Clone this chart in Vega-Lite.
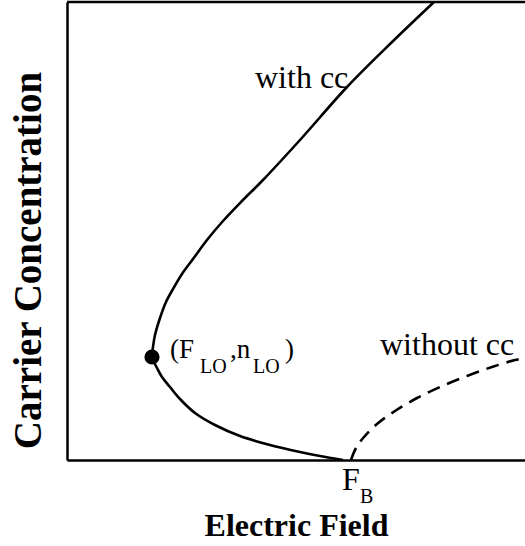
{
  "$schema": "https://vega.github.io/schema/vega-lite/v6.json",
  "autosize": "none",
  "padding": {"left": 67, "top": 2, "right": 0, "bottom": 86},
  "width": 458,
  "height": 458,
  "config": {"view": {"stroke": null}, "font": "Liberation Serif"},
  "datasets": {
    "curves": [
      {"series": "with cc", "order": 1, "E": 276, "n": 0},
      {"series": "with cc", "order": 2, "E": 253, "n": 4},
      {"series": "with cc", "order": 3, "E": 233, "n": 8},
      {"series": "with cc", "order": 4, "E": 203, "n": 15},
      {"series": "with cc", "order": 5, "E": 173, "n": 24},
      {"series": "with cc", "order": 6, "E": 148, "n": 35},
      {"series": "with cc", "order": 7, "E": 128, "n": 47},
      {"series": "with cc", "order": 8, "E": 113, "n": 61},
      {"series": "with cc", "order": 9, "E": 103, "n": 73},
      {"series": "with cc", "order": 10, "E": 95, "n": 83},
      {"series": "with cc", "order": 11, "E": 90, "n": 92},
      {"series": "with cc", "order": 12, "E": 87, "n": 98},
      {"series": "with cc", "order": 13, "E": 85, "n": 103},
      {"series": "with cc", "order": 14, "E": 86, "n": 113},
      {"series": "with cc", "order": 15, "E": 88, "n": 125},
      {"series": "with cc", "order": 16, "E": 93, "n": 142},
      {"series": "with cc", "order": 17, "E": 99, "n": 158},
      {"series": "with cc", "order": 18, "E": 106, "n": 171},
      {"series": "with cc", "order": 19, "E": 115, "n": 186},
      {"series": "with cc", "order": 20, "E": 126, "n": 201},
      {"series": "with cc", "order": 21, "E": 140, "n": 220},
      {"series": "with cc", "order": 22, "E": 156, "n": 239},
      {"series": "with cc", "order": 23, "E": 175, "n": 259},
      {"series": "with cc", "order": 24, "E": 196, "n": 280},
      {"series": "with cc", "order": 25, "E": 233, "n": 320},
      {"series": "with cc", "order": 26, "E": 280, "n": 373},
      {"series": "with cc", "order": 27, "E": 323, "n": 416},
      {"series": "with cc", "order": 28, "E": 367, "n": 458},
      {"series": "without cc", "order": 1, "E": 284, "n": 0},
      {"series": "without cc", "order": 2, "E": 289, "n": 12},
      {"series": "without cc", "order": 3, "E": 297, "n": 23},
      {"series": "without cc", "order": 4, "E": 310, "n": 36},
      {"series": "without cc", "order": 5, "E": 328, "n": 49},
      {"series": "without cc", "order": 6, "E": 350, "n": 62},
      {"series": "without cc", "order": 7, "E": 373, "n": 73},
      {"series": "without cc", "order": 8, "E": 400, "n": 84},
      {"series": "without cc", "order": 9, "E": 425, "n": 93},
      {"series": "without cc", "order": 10, "E": 448, "n": 100},
      {"series": "without cc", "order": 11, "E": 463, "n": 103}
    ],
    "point": [{"E": 85, "n": 103}],
    "mainText": [
      {"label": "with cc", "E": 188, "n": 372},
      {"label": "without cc", "E": 313, "n": 105},
      {"label": "F", "E": 275, "n": -30}
    ],
    "pointText": [
      {"label": "(F", "E": 103, "n": 102},
      {"label": ",n", "E": 163, "n": 102},
      {"label": ")", "E": 218, "n": 102}
    ],
    "subText": [
      {"label": "LO", "E": 133, "n": 87},
      {"label": "LO", "E": 186, "n": 87},
      {"label": "B", "E": 293, "n": -43}
    ]
  },
  "layer": [
    {
      "data": {"name": "curves"},
      "transform": [{"filter": "datum.series === 'with cc'"}],
      "mark": {"type": "line", "color": "black", "strokeWidth": 2.6, "interpolate": "catmull-rom"},
      "encoding": {
        "x": {
          "field": "E", "type": "quantitative",
          "scale": {"domain": [0, 458], "nice": false, "zero": false},
          "axis": {
            "title": "Electric Field", "domain": true, "domainColor": "black", "domainWidth": 2.5,
            "ticks": false, "labels": false, "grid": false,
            "titleFont": "Liberation Serif", "titleFontWeight": "bold", "titleFontSize": 32, "titleColor": "black",
            "titleX": 229, "titleY": 75, "titleBaseline": "alphabetic", "titleAlign": "center"
          }
        },
        "y": {
          "field": "n", "type": "quantitative",
          "scale": {"domain": [0, 458], "nice": false, "zero": false},
          "axis": {
            "title": "Carrier Concentration", "domain": true, "domainColor": "black", "domainWidth": 2.5,
            "ticks": false, "labels": false, "grid": false,
            "titleFont": "Liberation Serif", "titleFontWeight": "bold", "titleFontSize": 39, "titleColor": "black",
            "titleX": -39, "titleY": 258, "titleAngle": -90, "titleBaseline": "middle", "titleAlign": "center"
          }
        },
        "order": {"field": "order", "type": "quantitative"}
      }
    },
    {
      "data": {"name": "curves"},
      "transform": [{"filter": "datum.series === 'without cc'"}],
      "mark": {"type": "line", "color": "black", "strokeWidth": 2.6, "strokeDash": [13, 8], "interpolate": "catmull-rom"},
      "encoding": {
        "x": {"field": "E", "type": "quantitative"},
        "y": {"field": "n", "type": "quantitative"},
        "order": {"field": "order", "type": "quantitative"}
      }
    },
    {
      "data": {"values": [{"top": 458}]},
      "mark": {"type": "rule", "color": "black", "strokeWidth": 2.5},
      "encoding": {"y": {"field": "top", "type": "quantitative"}}
    },
    {
      "data": {"name": "point"},
      "mark": {"type": "point", "filled": true, "color": "black", "size": 230, "opacity": 1},
      "encoding": {
        "x": {"field": "E", "type": "quantitative"},
        "y": {"field": "n", "type": "quantitative"}
      }
    },
    {
      "data": {"name": "mainText"},
      "mark": {"type": "text", "align": "left", "baseline": "alphabetic", "font": "Liberation Serif", "fontSize": 32, "color": "black"},
      "encoding": {
        "x": {"field": "E", "type": "quantitative"},
        "y": {"field": "n", "type": "quantitative"},
        "text": {"field": "label"}
      }
    },
    {
      "data": {"name": "pointText"},
      "mark": {"type": "text", "align": "left", "baseline": "alphabetic", "font": "Liberation Serif", "fontSize": 27, "color": "black"},
      "encoding": {
        "x": {"field": "E", "type": "quantitative"},
        "y": {"field": "n", "type": "quantitative"},
        "text": {"field": "label"}
      }
    },
    {
      "data": {"name": "subText"},
      "mark": {"type": "text", "align": "left", "baseline": "alphabetic", "font": "Liberation Serif", "fontSize": 20, "color": "black"},
      "encoding": {
        "x": {"field": "E", "type": "quantitative"},
        "y": {"field": "n", "type": "quantitative"},
        "text": {"field": "label"}
      }
    }
  ]
}
